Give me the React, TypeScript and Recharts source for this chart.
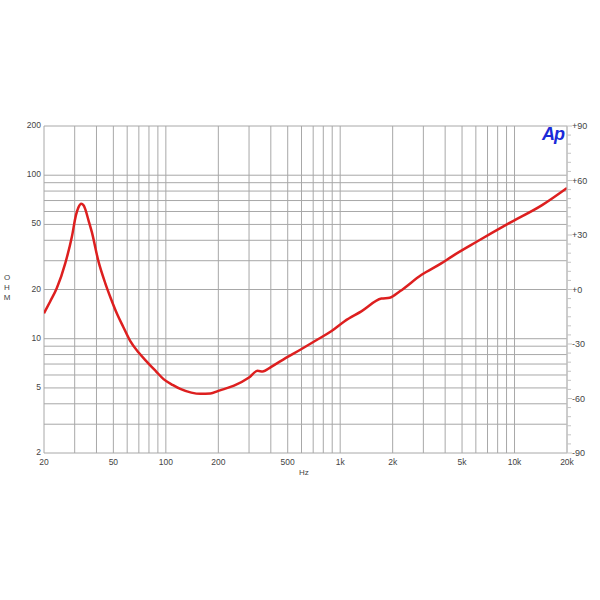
import React from 'react';
import { LineChart, Line, XAxis, YAxis, CartesianGrid } from 'recharts';

// impedance curve (Hz, ohm)
const freqs = [
  20, 21.7, 23.7, 26.5, 28.9, 30.5, 31.5, 32.7, 33.7, 34.4, 36, 37.6, 41.1, 44.9, 48,
  52.6, 57, 62.4, 70, 78.6, 88, 97, 110, 121, 140, 158, 180, 200, 246, 300, 336, 359,
  400, 458, 597, 745, 888, 1060, 1322, 1724, 1924, 2200, 2930, 3820, 4362, 6100, 9258,
  14392, 20000,
];
const ohms = [
  14.3, 16.9, 20.4, 29, 42, 57, 63.5, 67, 65.5, 62.5, 53, 45, 29.6, 21.9, 18,
  14.1, 11.8, 9.7, 8.2, 7.15, 6.3, 5.66, 5.2, 4.93, 4.68, 4.6, 4.62, 4.8, 5.16, 5.79, 6.36, 6.3,
  6.7, 7.32, 8.62, 9.92, 11.1, 12.8, 14.7, 17.6, 17.8, 19.5, 24.6, 29, 31.8, 39.3, 50.7,
  65.6, 83.5,
];
// phase scale on the right (no phase trace is drawn)
const phaseRange = [-90, 90];

// grid lines / labels
const xGrid = [
  20, 30, 40, 50, 60, 70, 80, 90, 100, 200, 300, 400, 500, 600, 700, 800, 900,
  1000, 2000, 3000, 4000, 5000, 6000, 7000, 8000, 9000, 10000, 20000,
];
const xLabels = [20, 50, 100, 200, 500, 1000, 2000, 5000, 10000, 20000];
const yGrid = [2, 3, 4, 5, 6, 7, 8, 9, 10, 20, 30, 40, 50, 60, 70, 80, 90, 100, 200];
const yLabels = [2, 5, 10, 20, 50, 100, 200];
const phaseTicks = [
  -90, -85, -80, -75, -70, -65, -60, -55, -50, -45, -40, -35, -30, -25, -20, -15, -10, -5,
  0, 5, 10, 15, 20, 25, 30, 35, 40, 45, 50, 55, 60, 65, 70, 75, 80, 85, 90,
];

const data = freqs.map((f, i) => ({ f, ohm: ohms[i] }));

const fmtHz = (v: number) => {
  if (!xLabels.includes(v)) return '';
  return v >= 1000 ? `${v / 1000}k` : String(v);
};

const PhaseTick = (props: any) => {
  const { x, y, payload } = props;
  const v = payload.value as number;
  const major = v % 30 === 0;
  const label = v > 0 ? `+${v}` : v === 0 ? '+0' : String(v);
  return (
    <g>
      <line x1={x} x2={x + (major ? 5 : 4)} y1={y} y2={y} stroke="#c4c4c4" />
      {major && (
        <text x={x + 5} y={y} dy={3} fontSize={9} fill="#444">
          {label}
        </text>
      )}
    </g>
  );
};

const font = '"Liberation Sans", Arial, sans-serif';

export default function App() {
  return (
    <div style={{ position: 'absolute', left: 0, top: 0, width: 600, height: 600, fontFamily: font, background: '#fff' }}>
      <LineChart
        width={600}
        height={600}
        data={data}
        margin={{ top: 126, right: 0, bottom: 107, left: 0 }}
        style={{ fontFamily: font }}
      >
        <CartesianGrid yAxisId="ohm" stroke="#a8a8a8" strokeWidth={1} />
        <XAxis
          dataKey="f"
          type="number"
          scale="log"
          domain={[20, 20000]}
          ticks={xGrid}
          interval={0}
          tickFormatter={fmtHz}
          tickLine={false}
          axisLine={false}
          tickSize={0}
          tickMargin={6}
          height={40}
          tick={{ fontSize: 8.5, fill: '#444' }}
          allowDataOverflow
        />
        <YAxis
          yAxisId="ohm"
          type="number"
          scale="log"
          domain={[2, 200]}
          ticks={yGrid}
          interval={0}
          tickFormatter={(v: number) => (yLabels.includes(v) ? String(v) : '')}
          tickLine={false}
          axisLine={false}
          tickSize={0}
          tickMargin={3}
          width={44}
          tick={{ fontSize: 8.5, fill: '#444', dy: -1 }}
          allowDataOverflow
        />
        <YAxis
          yAxisId="phase"
          orientation="right"
          type="number"
          domain={phaseRange}
          ticks={phaseTicks}
          interval={0}
          tickLine={false}
          axisLine={{ stroke: '#c4c4c4' }}
          tickSize={0}
          tickMargin={0}
          width={33}
          tick={<PhaseTick />}
          allowDataOverflow
        />
        <Line
          yAxisId="ohm"
          dataKey="ohm"
          type="monotone"
          stroke="#dd1f1f"
          strokeWidth={2.5}
          dot={false}
          isAnimationActive={false}
        />
        <Line
          yAxisId="phase"
          dataKey="phase"
          stroke="none"
          dot={false}
          legendType="none"
          isAnimationActive={false}
        />
      </LineChart>
      <div style={{ position: 'absolute', left: 2, top: 273, width: 10, fontSize: 8, lineHeight: '10px', color: '#444', textAlign: 'center' }}>
        O<br />H<br />M
      </div>
      <div style={{ position: 'absolute', left: 299, top: 468, fontSize: 8, color: '#444' }}>Hz</div>
      <div
        style={{
          position: 'absolute',
          left: 542,
          top: 124,
          fontSize: 18,
          fontWeight: 'bold',
          fontStyle: 'italic',
          color: '#1a2ad8',
          letterSpacing: -1,
        }}
      >
        Ap
      </div>
    </div>
  );
}
